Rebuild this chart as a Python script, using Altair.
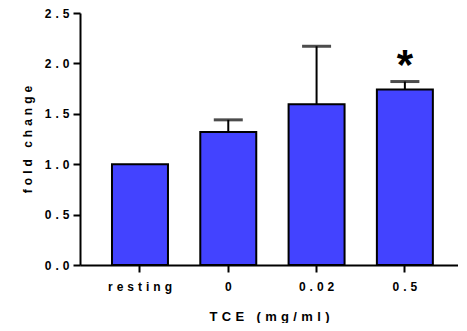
import altair as alt
import pandas as pd

categories = ["resting", "0", "0.02", "0.5"]
means = [1.0, 1.32, 1.595, 1.74]
errors = [0.0, 0.12, 0.575, 0.08]
marks = ["", "", "", "*"]

df = pd.DataFrame({
    "cat": categories,
    "mean": means,
    "err": errors,
    "sig": marks,
})
df["hi"] = df["mean"] + df["err"]

SP = "\u2004"
FONT = "Liberation Sans"
spaced = "join(split(datum.label, ''), '\u2004')"

x = alt.X("cat:N", sort=categories,
          scale=alt.Scale(paddingInner=0.366, paddingOuter=0.3235, align=0.56),
          axis=alt.Axis(title=SP.join("TCE (mg/ml)"), labelAngle=0, labelPadding=9,
                        titlePadding=18, labelExpr=spaced))
yscale = alt.Scale(domain=[0, 2.5], nice=False)
yaxis = alt.Axis(title=SP.join("fold change"), values=[0, 0.5, 1.0, 1.5, 2.0, 2.5],
                 format=".1f", labelPadding=4, titlePadding=10, labelExpr=spaced)

base = alt.Chart(df)

stems = base.transform_filter("datum.err > 0").mark_rule(color="black", strokeWidth=2).encode(
    x=x, y=alt.Y("mean:Q", scale=yscale, axis=yaxis), y2="hi:Q")

bars = base.mark_bar(fill="#4343FF", stroke="black", strokeWidth=2).encode(
    x=x, y=alt.Y("mean:Q", scale=yscale, axis=yaxis))

caps = base.transform_filter("datum.err > 0").mark_tick(color="black", size=29, thickness=3).encode(
    x=x, y=alt.Y("hi:Q", scale=yscale))

stars = base.transform_filter("datum.sig != ''").mark_text(
    font=FONT, fontSize=42, fontWeight="bold", color="black", baseline="alphabetic", dy=-3
).encode(x=x, y=alt.Y("hi:Q", scale=yscale), text="sig:N")

chart = alt.layer(stems, bars, caps, stars).properties(
    width=378, height=252,
    autosize=alt.AutoSizeParams(type="none"),
    padding={"left": 72, "top": 5, "right": 0, "bottom": 58},
).configure_view(stroke=None).configure_axis(
    grid=False, domainColor="black", domainWidth=2, tickColor="black", tickWidth=2, tickSize=7,
    labelFont=FONT, labelFontWeight="bold", labelFontSize=12, labelColor="black",
    titleFont=FONT, titleFontWeight="bold", titleFontSize=12, titleColor="black",
).configure_axisX(titleFontSize=13)

chart.save("out.html", embed_options={"renderer": "svg", "actions": False})
